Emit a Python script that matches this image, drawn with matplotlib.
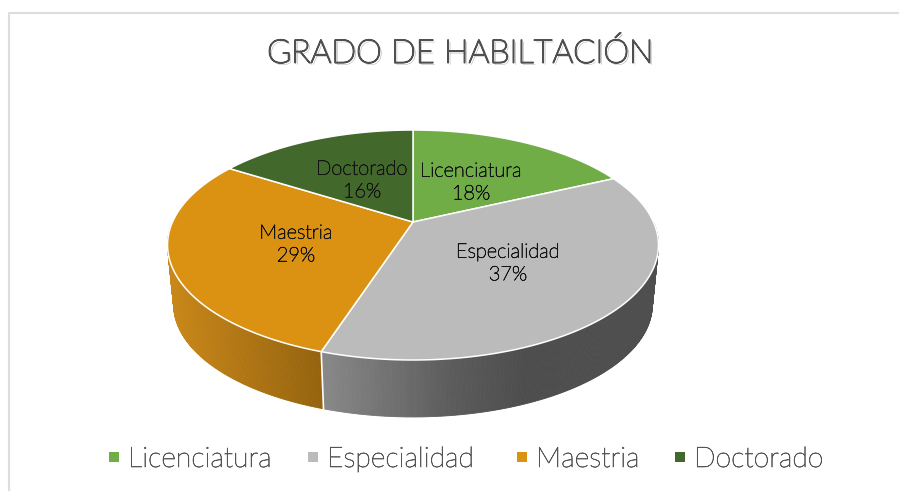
import matplotlib
matplotlib.use('Agg')
import matplotlib.pyplot as plt
import matplotlib.patheffects as pe
import numpy as np

plt.rcParams['font.family'] = ['Lato', 'DejaVu Sans']

categories = ['Licenciatura', 'Especialidad', 'Maestria', 'Doctorado']
values = [18, 37, 29, 16]
colors = ['#70AD47', '#BBBBBB', '#DB9213', '#43682B']
title = 'GRADO DE HABILTACIÓN'

# label centres and legend positions, in pixels
label_pos = [(471, 183), (508, 264), (296, 245), (362, 181)]
legend_x = [113.5, 313, 522, 680]
legend_text_x = [128, 327, 536, 694]

CX, CY = 413, 222
K = 0.2
A, B = 240.5, 110.4
DROP = 60.4
SHRINK = 0.975


def project(theta):
    # circle seen in perspective, theta clockwise from the top
    x, y = np.sin(theta), np.cos(theta)
    d = 1 + K * y
    return CX + A * x / d, CY - B * y / d


def project_low(theta):
    px, py = project(theta)
    return CX + (px - CX) * SHRINK, CY + DROP + (py - CY) * SHRINK


def side_color(name, x):
    if name == 'Especialidad':
        g = np.interp(x, [323, 450, 525, 660], [0x88, 0x5C, 0x4D, 0x4F]) / 255
        return (g, g, g)
    r = np.interp(x, [170, 324], [200, 148]) / 255
    g = np.interp(x, [170, 324], [135, 98]) / 255
    b = np.interp(x, [170, 324], [25, 14]) / 255
    return (r, g, b)


fig = plt.figure(figsize=(8.99, 4.91), dpi=100)
ax = fig.add_axes([0, 0, 1, 1])
ax.set_xlim(0, 899)
ax.set_ylim(491, 0)
ax.axis('off')

# chart frame, only top and left show
ax.plot([899, 8.5, 8.5], [12.5, 12.5, 491], color='#DDDDDD', lw=1.5)

edges = np.radians(np.cumsum([0] + values) * 3.6)

# side wall, front part only
for i, name in enumerate(categories):
    lo, hi = max(edges[i], np.pi / 2), min(edges[i + 1], 3 * np.pi / 2)
    if hi <= lo:
        continue
    th = np.linspace(lo, hi, int(np.degrees(hi - lo) * 2) + 2)
    for t0, t1 in zip(th[:-1], th[1:]):
        x0, y0 = project(t0)
        x1, y1 = project(t1)
        x2, y2 = project_low(t1)
        x3, y3 = project_low(t0)
        c = side_color(name, (x0 + x1) / 2)
        ax.fill([x0, x1, x2, x3], [y0, y1, y2, y3], color=c, lw=0.6, zorder=2)
    # white seam at the slice boundary
    if name == 'Especialidad':
        x0, y0 = project(hi)
        x1, y1 = project_low(hi)
        ax.plot([x0, x1], [y0, y1], color='white', lw=1.2, zorder=3)

# top face
for i, name in enumerate(categories):
    th = np.linspace(edges[i], edges[i + 1], 200)
    px, py = project(th)
    ax.fill(np.r_[CX, px], np.r_[CY, py], facecolor=colors[i], edgecolor='white',
            lw=1.1, joinstyle='round', zorder=4)

for name, v, (x, y) in zip(categories, values, label_pos):
    ax.text(x, y, f'{name}\n{v}%', ha='center', va='center', fontsize=14.4, fontweight='light',
            color='#141414', linespacing=1.33, zorder=5,
            path_effects=[pe.withStroke(linewidth=0.45, foreground='#141414')])

title_fx = [pe.withSimplePatchShadow(offset=(1.4, -1.4), shadow_rgbFace='#000000', alpha=0.45),
            pe.withStroke(linewidth=1.1, foreground='#505050')]
ax.text(460, 53, title, ha='center', va='center', fontsize=23.5, fontweight='light', color='#505050',
        path_effects=title_fx, zorder=5)

for name, c, mx, tx in zip(categories, colors, legend_x, legend_text_x):
    ax.scatter([mx], [457], marker='s', s=58, color=c, linewidths=0, zorder=5)
    ax.text(tx, 467, name, ha='left', va='baseline', fontsize=20.4, fontweight='light',
            color='#555555', zorder=5,
            path_effects=[pe.withStroke(linewidth=0.45, foreground='#555555')])

fig.savefig('out.png', dpi=100)
